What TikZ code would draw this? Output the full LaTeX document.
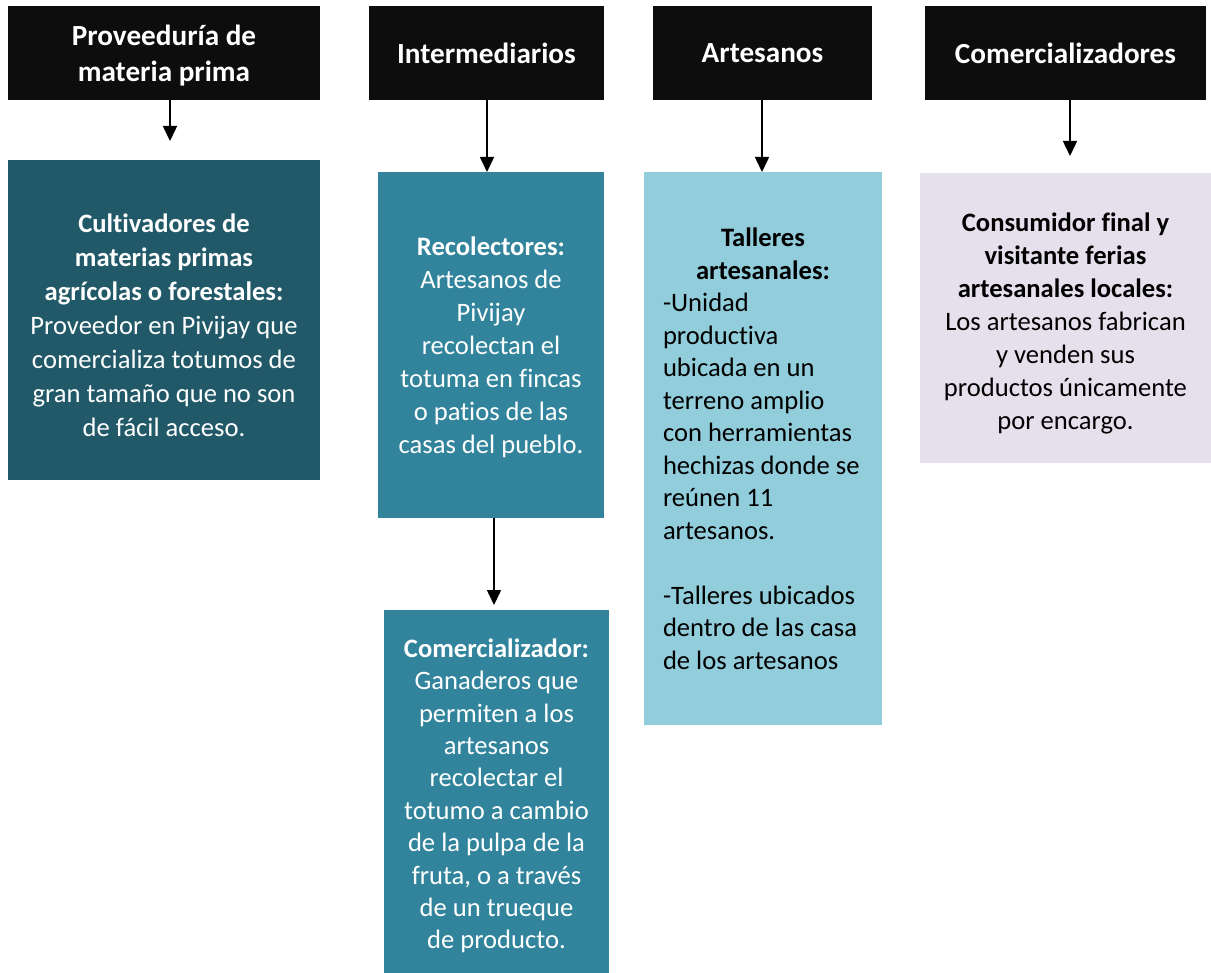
\documentclass[tikz,border=0pt]{standalone}
\usepackage{fontspec}
\setmainfont{Carlito}[Ligatures=NoCommon]
\usetikzlibrary{arrows.meta}
\definecolor{hdr}{HTML}{0D0D0D}
\definecolor{dteal}{HTML}{215968}
\definecolor{mteal}{HTML}{31849B}
\definecolor{lblue}{HTML}{92CDDC}
\definecolor{lav}{HTML}{E5E0EC}
\tikzset{
  hdrbox/.style={fill=hdr, draw=none, inner sep=0pt, text=white, align=center,
    font=\fontsize{29.2}{36}\selectfont\bfseries},
  cbox/.style={draw=none, inner sep=0pt, align=center},
  ctext/.style={draw=none, inner sep=0pt, align=center, font=\fontsize{26.6}{#1}\selectfont},
  arr/.style={line width=1.6pt, -{Triangle[width=14pt,length=15pt]}},
}
\begin{document}
\begin{tikzpicture}[x=1pt,y=-1pt]
\useasboundingbox (0,0) rectangle (1211,973);
% header boxes
\node[hdrbox, minimum width=312pt, minimum height=94pt] (h1) at (164,53) {};
\node[hdrbox] (h1t) at ([yshift=-3pt]h1.center) {Proveeduría de\\materia prima};
\node[hdrbox, minimum width=235pt, minimum height=94pt] (h2) at (486.5,53) {Intermediarios};
\node[hdrbox, minimum width=219pt, minimum height=94pt] (h3) at (762.5,53) {Artesanos};
\node[hdrbox, minimum width=281pt, minimum height=94pt] (h4) at (1065.5,53) {Comercializadores};
% content boxes
\node[cbox, fill=dteal, minimum width=312pt, minimum height=320pt] (c1) at (164,320) {};
\node[ctext=34pt, text=white] (c1t) at ([yshift=-5pt]c1.center)
  {\textbf{Cultivadores de}\\\textbf{materias primas}\\\textbf{agrícolas o forestales:}\\Proveedor en Pivijay que\\comercializa totumos de\\gran tamaño que no son\\de fácil acceso.};
\node[cbox, fill=mteal, minimum width=226pt, minimum height=346pt] (c2) at (491,345) {};
\node[ctext=33pt, text=white] (c2t) at ([yshift=-2pt]c2.center)
  {\textbf{Recolectores:}\\Artesanos de\\Pivijay\\recolectan el\\totuma en fincas\\o patios de las\\casas del pueblo.};
\node[cbox, fill=mteal, minimum width=225pt, minimum height=363pt] (c3) at (496.5,791.5) {};
\node[ctext=32.4pt, text=white] (c3t) at ([yshift=-4.5pt]c3.center)
  {\textbf{Comercializador:}\\Ganaderos que\\permiten a los\\artesanos\\recolectar el\\totumo a cambio\\de la pulpa de la\\fruta, o a través\\de un trueque\\de producto.};
\node[cbox, fill=lblue, minimum width=238pt, minimum height=553pt] (c4) at (763,448.5) {};
\node[ctext=32.5pt, text=black] (c4t) at ([yshift=-3pt]c4.center)
  {\begin{tabular}{@{}l@{}}
  \makebox[200pt][c]{\bfseries Talleres}\\
  \makebox[200pt][c]{\bfseries artesanales:}\\
  -Unidad\\
  productiva\\
  ubicada en un\\
  terreno amplio\\
  con herramientas\\
  hechizas donde se\\
  reúnen 11\\
  artesanos.\\
  \\
  -Talleres ubicados\\
  dentro de las casa\\
  de los artesanos
  \end{tabular}};
\node[cbox, fill=lav, minimum width=291pt, minimum height=290pt] (c5) at (1065.5,318) {};
\node[ctext=33pt, text=black] (c5t) at ([yshift=-5pt]c5.center)
  {\textbf{Consumidor final y}\\\textbf{visitante ferias}\\\textbf{artesanales locales:}\\Los artesanos fabrican\\y venden sus\\productos únicamente\\por encargo.};
% arrow tips
\coordinate (t1) at (170,141);
\coordinate (t2) at (487,172);
\coordinate (t3) at (762,172);
\coordinate (t4) at (1070,156);
\coordinate (t5) at (494,605);
\draw[arr] (h1.south -| t1) -- (t1);
\draw[arr] (h2.south -| t2) -- (t2);
\draw[arr] (h3.south -| t3) -- (t3);
\draw[arr] (h4.south -| t4) -- (t4);
\draw[arr] (c2.south -| t5) -- (t5);
\end{tikzpicture}
\end{document}
